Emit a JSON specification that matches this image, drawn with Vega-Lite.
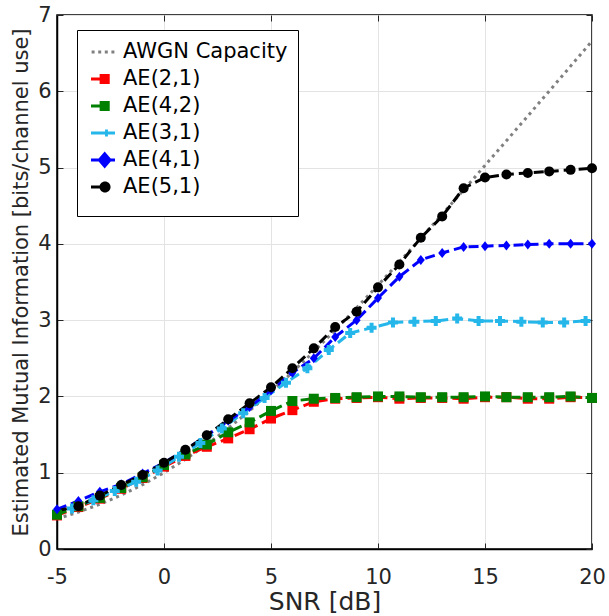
{
  "$schema": "https://vega.github.io/schema/vega-lite/v6.json",
  "width": 535,
  "height": 534,
  "autosize": {"type": "none"},
  "padding": {"left": 57, "top": 15, "right": 17, "bottom": 67},
  "background": "white",
  "config": {
    "font": "DejaVu Sans",
    "view": {"stroke": "black", "strokeWidth": 1.5},
    "axis": {"labelFont": "DejaVu Sans", "titleFont": "DejaVu Sans", "labelColor": "#262626", "titleColor": "#262626", "titleFontWeight": "normal", "gridColor": "#e3e3e3", "gridWidth": 1, "domainColor": "black", "domainWidth": 1.5, "tickColor": "#262626", "tickWidth": 1}
  },
  "data": {"values": [
    {"series": "AWGN Capacity", "snr": -5, "mi": 0.396}, {"series": "AWGN Capacity", "snr": -4, "mi": 0.484}, {"series": "AWGN Capacity", "snr": -3, "mi": 0.586}, {"series": "AWGN Capacity", "snr": -2, "mi": 0.706}, {"series": "AWGN Capacity", "snr": -1, "mi": 0.843}, {"series": "AWGN Capacity", "snr": 0, "mi": 1.0}, {"series": "AWGN Capacity", "snr": 1, "mi": 1.176}, {"series": "AWGN Capacity", "snr": 2, "mi": 1.37}, {"series": "AWGN Capacity", "snr": 3, "mi": 1.583}, {"series": "AWGN Capacity", "snr": 4, "mi": 1.812}, {"series": "AWGN Capacity", "snr": 5, "mi": 2.057}, {"series": "AWGN Capacity", "snr": 6, "mi": 2.316}, {"series": "AWGN Capacity", "snr": 7, "mi": 2.588}, {"series": "AWGN Capacity", "snr": 8, "mi": 2.87}, {"series": "AWGN Capacity", "snr": 9, "mi": 3.161}, {"series": "AWGN Capacity", "snr": 10, "mi": 3.459}, {"series": "AWGN Capacity", "snr": 11, "mi": 3.764}, {"series": "AWGN Capacity", "snr": 12, "mi": 4.075}, {"series": "AWGN Capacity", "snr": 13, "mi": 4.389}, {"series": "AWGN Capacity", "snr": 14, "mi": 4.707}, {"series": "AWGN Capacity", "snr": 15, "mi": 5.028}, {"series": "AWGN Capacity", "snr": 16, "mi": 5.351}, {"series": "AWGN Capacity", "snr": 17, "mi": 5.676}, {"series": "AWGN Capacity", "snr": 18, "mi": 6.002}, {"series": "AWGN Capacity", "snr": 19, "mi": 6.33}, {"series": "AWGN Capacity", "snr": 20, "mi": 6.658},

    {"series": "AE(2,1)", "snr": -5, "mi": 0.44}, {"series": "AE(2,1)", "snr": -4, "mi": 0.55}, {"series": "AE(2,1)", "snr": -3, "mi": 0.66}, {"series": "AE(2,1)", "snr": -2, "mi": 0.79}, {"series": "AE(2,1)", "snr": -1, "mi": 0.93}, {"series": "AE(2,1)", "snr": 0, "mi": 1.08}, {"series": "AE(2,1)", "snr": 1, "mi": 1.22}, {"series": "AE(2,1)", "snr": 2, "mi": 1.34}, {"series": "AE(2,1)", "snr": 3, "mi": 1.45}, {"series": "AE(2,1)", "snr": 4, "mi": 1.57}, {"series": "AE(2,1)", "snr": 5, "mi": 1.71}, {"series": "AE(2,1)", "snr": 6, "mi": 1.82}, {"series": "AE(2,1)", "snr": 7, "mi": 1.93}, {"series": "AE(2,1)", "snr": 8, "mi": 1.97}, {"series": "AE(2,1)", "snr": 9, "mi": 1.98}, {"series": "AE(2,1)", "snr": 10, "mi": 1.99}, {"series": "AE(2,1)", "snr": 11, "mi": 1.97}, {"series": "AE(2,1)", "snr": 12, "mi": 1.98}, {"series": "AE(2,1)", "snr": 13, "mi": 1.98}, {"series": "AE(2,1)", "snr": 14, "mi": 1.97}, {"series": "AE(2,1)", "snr": 15, "mi": 1.99}, {"series": "AE(2,1)", "snr": 16, "mi": 1.99}, {"series": "AE(2,1)", "snr": 17, "mi": 1.97}, {"series": "AE(2,1)", "snr": 18, "mi": 1.97}, {"series": "AE(2,1)", "snr": 19, "mi": 1.99}, {"series": "AE(2,1)", "snr": 20, "mi": 1.98},

    {"series": "AE(4,2)", "snr": -5, "mi": 0.45}, {"series": "AE(4,2)", "snr": -4, "mi": 0.56}, {"series": "AE(4,2)", "snr": -3, "mi": 0.67}, {"series": "AE(4,2)", "snr": -2, "mi": 0.8}, {"series": "AE(4,2)", "snr": -1, "mi": 0.94}, {"series": "AE(4,2)", "snr": 0, "mi": 1.1}, {"series": "AE(4,2)", "snr": 1, "mi": 1.24}, {"series": "AE(4,2)", "snr": 2, "mi": 1.37}, {"series": "AE(4,2)", "snr": 3, "mi": 1.53}, {"series": "AE(4,2)", "snr": 4, "mi": 1.66}, {"series": "AE(4,2)", "snr": 5, "mi": 1.81}, {"series": "AE(4,2)", "snr": 6, "mi": 1.94}, {"series": "AE(4,2)", "snr": 7, "mi": 1.97}, {"series": "AE(4,2)", "snr": 8, "mi": 1.98}, {"series": "AE(4,2)", "snr": 9, "mi": 1.99}, {"series": "AE(4,2)", "snr": 10, "mi": 2.0}, {"series": "AE(4,2)", "snr": 11, "mi": 2.0}, {"series": "AE(4,2)", "snr": 12, "mi": 1.99}, {"series": "AE(4,2)", "snr": 13, "mi": 1.99}, {"series": "AE(4,2)", "snr": 14, "mi": 1.99}, {"series": "AE(4,2)", "snr": 15, "mi": 2.0}, {"series": "AE(4,2)", "snr": 16, "mi": 1.99}, {"series": "AE(4,2)", "snr": 17, "mi": 1.99}, {"series": "AE(4,2)", "snr": 18, "mi": 1.99}, {"series": "AE(4,2)", "snr": 19, "mi": 2.0}, {"series": "AE(4,2)", "snr": 20, "mi": 1.98},

    {"series": "AE(3,1)", "snr": -4.3, "mi": 0.53}, {"series": "AE(3,1)", "snr": -3.3, "mi": 0.64}, {"series": "AE(3,1)", "snr": -2.3, "mi": 0.76}, {"series": "AE(3,1)", "snr": -1.3, "mi": 0.88}, {"series": "AE(3,1)", "snr": -0.3, "mi": 1.03}, {"series": "AE(3,1)", "snr": 0.7, "mi": 1.21}, {"series": "AE(3,1)", "snr": 1.7, "mi": 1.39}, {"series": "AE(3,1)", "snr": 2.7, "mi": 1.58}, {"series": "AE(3,1)", "snr": 3.7, "mi": 1.78}, {"series": "AE(3,1)", "snr": 4.7, "mi": 1.98}, {"series": "AE(3,1)", "snr": 5.7, "mi": 2.18}, {"series": "AE(3,1)", "snr": 6.7, "mi": 2.37}, {"series": "AE(3,1)", "snr": 7.7, "mi": 2.61}, {"series": "AE(3,1)", "snr": 8.7, "mi": 2.83}, {"series": "AE(3,1)", "snr": 9.7, "mi": 2.9}, {"series": "AE(3,1)", "snr": 10.7, "mi": 2.97}, {"series": "AE(3,1)", "snr": 11.7, "mi": 2.98}, {"series": "AE(3,1)", "snr": 12.7, "mi": 2.99}, {"series": "AE(3,1)", "snr": 13.7, "mi": 3.02}, {"series": "AE(3,1)", "snr": 14.7, "mi": 2.99}, {"series": "AE(3,1)", "snr": 15.7, "mi": 2.99}, {"series": "AE(3,1)", "snr": 16.7, "mi": 2.98}, {"series": "AE(3,1)", "snr": 17.7, "mi": 2.97}, {"series": "AE(3,1)", "snr": 18.7, "mi": 2.97}, {"series": "AE(3,1)", "snr": 19.7, "mi": 2.99},

    {"series": "AE(4,1)", "snr": -5, "mi": 0.52}, {"series": "AE(4,1)", "snr": -4, "mi": 0.63}, {"series": "AE(4,1)", "snr": -3, "mi": 0.75}, {"series": "AE(4,1)", "snr": -2, "mi": 0.85}, {"series": "AE(4,1)", "snr": -1, "mi": 0.99}, {"series": "AE(4,1)", "snr": 0, "mi": 1.13}, {"series": "AE(4,1)", "snr": 1, "mi": 1.3}, {"series": "AE(4,1)", "snr": 2, "mi": 1.49}, {"series": "AE(4,1)", "snr": 3, "mi": 1.68}, {"series": "AE(4,1)", "snr": 4, "mi": 1.86}, {"series": "AE(4,1)", "snr": 5, "mi": 2.08}, {"series": "AE(4,1)", "snr": 6, "mi": 2.31}, {"series": "AE(4,1)", "snr": 7, "mi": 2.5}, {"series": "AE(4,1)", "snr": 8, "mi": 2.78}, {"series": "AE(4,1)", "snr": 9, "mi": 3.0}, {"series": "AE(4,1)", "snr": 10, "mi": 3.29}, {"series": "AE(4,1)", "snr": 11, "mi": 3.57}, {"series": "AE(4,1)", "snr": 12, "mi": 3.79}, {"series": "AE(4,1)", "snr": 13, "mi": 3.88}, {"series": "AE(4,1)", "snr": 14, "mi": 3.96}, {"series": "AE(4,1)", "snr": 15, "mi": 3.97}, {"series": "AE(4,1)", "snr": 16, "mi": 3.98}, {"series": "AE(4,1)", "snr": 17, "mi": 3.99}, {"series": "AE(4,1)", "snr": 18, "mi": 4.0}, {"series": "AE(4,1)", "snr": 19, "mi": 4.0}, {"series": "AE(4,1)", "snr": 20, "mi": 4.0},

    {"series": "AE(5,1)", "snr": -5, "mi": 0.5}, {"series": "AE(5,1)", "snr": -4, "mi": 0.56}, {"series": "AE(5,1)", "snr": -3, "mi": 0.7}, {"series": "AE(5,1)", "snr": -2, "mi": 0.84}, {"series": "AE(5,1)", "snr": -1, "mi": 0.97}, {"series": "AE(5,1)", "snr": 0, "mi": 1.13}, {"series": "AE(5,1)", "snr": 1, "mi": 1.3}, {"series": "AE(5,1)", "snr": 2, "mi": 1.49}, {"series": "AE(5,1)", "snr": 3, "mi": 1.7}, {"series": "AE(5,1)", "snr": 4, "mi": 1.91}, {"series": "AE(5,1)", "snr": 5, "mi": 2.12}, {"series": "AE(5,1)", "snr": 6, "mi": 2.37}, {"series": "AE(5,1)", "snr": 7, "mi": 2.63}, {"series": "AE(5,1)", "snr": 8, "mi": 2.91}, {"series": "AE(5,1)", "snr": 9, "mi": 3.11}, {"series": "AE(5,1)", "snr": 10, "mi": 3.43}, {"series": "AE(5,1)", "snr": 11, "mi": 3.73}, {"series": "AE(5,1)", "snr": 12, "mi": 4.08}, {"series": "AE(5,1)", "snr": 13, "mi": 4.36}, {"series": "AE(5,1)", "snr": 14, "mi": 4.73}, {"series": "AE(5,1)", "snr": 15, "mi": 4.87}, {"series": "AE(5,1)", "snr": 16, "mi": 4.91}, {"series": "AE(5,1)", "snr": 17, "mi": 4.93}, {"series": "AE(5,1)", "snr": 18, "mi": 4.95}, {"series": "AE(5,1)", "snr": 19, "mi": 4.97}, {"series": "AE(5,1)", "snr": 20, "mi": 4.99}
  ]},
  "resolve": {"axis": {"x": "independent", "y": "independent"}},
  "layer": [
    {
      "mark": {"type": "line", "strokeWidth": 3, "clip": true},
      "encoding": {
        "x": {"field": "snr", "type": "quantitative", "scale": {"domain": [-5, 20], "nice": false, "zero": false},
              "axis": {"values": [-5, 0, 5, 10, 15, 20], "labelExpr": "'' + datum.value", "title": "SNR [dB]", "titleFontSize": 25, "labelFontSize": 21, "tickSize": -6, "labelPadding": 23, "titlePadding": 2, "grid": true, "labelFlush": false}},
        "y": {"field": "mi", "type": "quantitative", "scale": {"domain": [0, 7], "nice": false},
              "axis": {"values": [0, 1, 2, 3, 4, 5, 6, 7], "title": "Estimated Mutual Information [bits/channel use]", "titleFontSize": 21, "labelFontSize": 21, "tickSize": -6, "labelPadding": 12, "titlePadding": 6, "grid": true, "labelFlush": false}},
        "color": {"field": "series", "type": "nominal",
                  "scale": {"domain": ["AWGN Capacity", "AE(2,1)", "AE(4,2)", "AE(3,1)", "AE(4,1)", "AE(5,1)"], "range": ["#808080", "#ff0000", "#008000", "#25b6ea", "#0000ff", "#000000"]},
                  "legend": {
                    "orient": "none", "legendX": 20, "legendY": 15, "title": " ", "titleOrient": "bottom", "titleFontSize": 9, "titlePadding": 0,
                    "strokeColor": "black", "fillColor": "white", "padding": 10,
                    "symbolSize": 576, "labelFontSize": 21, "labelFont": "DejaVu Sans", "labelColor": "black", "labelLimit": 400,
                    "rowPadding": 5, "labelOffset": 8, "symbolOffset": 4,
                    "encode": {"symbols": {"update": {
                      "shape": {"signal": "datum.value === 'AWGN Capacity' ? 'M-0.95,-0.12H-0.7V0.12H-0.95Z M-0.4,-0.12H-0.15V0.12H-0.4Z M0.15,-0.12H0.4V0.12H0.15Z M0.7,-0.12H0.95V0.12H0.7Z' : (datum.value === 'AE(2,1)' || datum.value === 'AE(4,2)') ? 'M-1,-0.13H0V0.13H-1Z M-0.28,-0.42H0.56V0.42H-0.28Z' : datum.value === 'AE(3,1)' ? 'M-1,-0.13H1V0.13H-1Z M0.17,-0.3H0.41V0.3H0.17Z M-0.01,-0.12H0.59V0.12H-0.01Z' : datum.value === 'AE(4,1)' ? 'M-1,-0.13H1V0.13H-1Z M0.14,-0.7L0.75,0L0.14,0.7L-0.47,0Z' : 'M-1,-0.13H0V0.13H-1Z M0.63,0A0.46,0.46 0 1,1 -0.29,0A0.46,0.46 0 1,1 0.63,0Z'"},
                      "fill": {"signal": "datum.value === 'AWGN Capacity' ? '#808080' : datum.value === 'AE(2,1)' ? '#ff0000' : datum.value === 'AE(4,2)' ? '#008000' : datum.value === 'AE(3,1)' ? '#25b6ea' : datum.value === 'AE(4,1)' ? '#0000ff' : '#000000'"},
                      "fillOpacity": {"value": 1},
                      "opacity": {"value": 1},
                      "strokeWidth": {"value": 0}
                    }}}
                  }},
        "strokeDash": {"field": "series", "type": "nominal",
                       "scale": {"domain": ["AWGN Capacity", "AE(2,1)", "AE(4,2)", "AE(3,1)", "AE(4,1)", "AE(5,1)"], "range": [[3, 4], [10, 5], [10, 5], [10, 5], [10, 5], [10, 5]]},
                       "legend": null}
      }
    },
    {
      "transform": [{"filter": "datum.series !== 'AWGN Capacity' && !(datum.series === 'AE(5,1)' && datum.snr === -5)"}],
      "mark": {"type": "point", "filled": true, "opacity": 1, "clip": false},
      "encoding": {
        "x": {"field": "snr", "type": "quantitative",
              "axis": {"orient": "top", "values": [-5, 0, 5, 10, 15, 20], "labels": false, "title": null, "grid": false, "domain": false, "tickSize": -6}},
        "y": {"field": "mi", "type": "quantitative",
              "axis": {"orient": "right", "values": [0, 1, 2, 3, 4, 5, 6, 7], "labels": false, "title": null, "grid": false, "domain": false, "tickSize": -6}},
        "color": {"field": "series", "type": "nominal"},
        "shape": {"field": "series", "type": "nominal",
                  "scale": {"domain": ["AE(2,1)", "AE(4,2)", "AE(3,1)", "AE(4,1)", "AE(5,1)"], "range": ["square", "square", "cross", "M0,-1L0.8,0L0,1L-0.8,0Z", "circle"]},
                  "legend": null},
        "size": {"field": "series", "type": "nominal",
                 "scale": {"domain": ["AE(2,1)", "AE(4,2)", "AE(3,1)", "AE(4,1)", "AE(5,1)"], "range": [100, 100, 55, 250, 160]},
                 "legend": null}
      }
    }
  ]
}
